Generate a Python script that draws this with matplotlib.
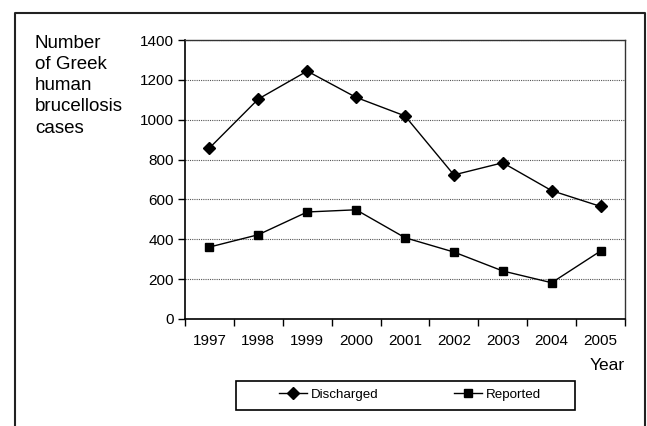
import matplotlib
matplotlib.use("Agg")
import matplotlib.pyplot as plt
from matplotlib.lines import Line2D
from matplotlib.patches import Rectangle

years = ["1997", "1998", "1999", "2000", "2001", "2002", "2003", "2004", "2005"]
discharged = [858, 1104, 1244, 1112, 1019, 723, 784, 644, 565]
reported = [361, 423, 537, 548, 408, 336, 241, 182, 341]

plt.rcParams["font.family"] = ["Liberation Sans", "DejaVu Sans"]

W, H = 647, 426
fig = plt.figure(figsize=(W / 100, H / 100), dpi=100)
ax = fig.add_axes([185 / W, 107 / H, 440 / W, 279 / H])

x = range(len(years))
ax.plot(x, discharged, color="black", lw=1, marker="D", ms=6.5, label="Discharged")
ax.plot(x, reported, color="black", lw=1, marker="s", ms=5.5, label="Reported")

ax.set_xlim(-0.5, len(years) - 0.5)
ax.set_ylim(0, 1400)
ax.set_yticks(range(0, 1401, 200))
ax.set_xticks(list(x))
ax.set_xticklabels(years)
ax.set_xticks([i + 0.5 for i in range(-1, len(years))], minor=True)
ax.tick_params(axis="x", which="major", length=0, pad=11, labelsize=11)
ax.tick_params(axis="x", which="minor", length=5, width=1)
ax.tick_params(axis="y", length=5, width=1, labelsize=11, pad=3)
ax.grid(axis="y", linestyle=(0, (1, 1)), color="#555555", lw=0.8)
for s in ["left", "bottom"]:
    ax.spines[s].set_linewidth(1.2)
for s in ["top", "right"]:
    ax.spines[s].set_color("#333333")
    ax.spines[s].set_linewidth(1)

fig.text(35 / W, 1 - 35 / H, "Number\nof Greek\nhuman\nbrucellosis\ncases",
         ha="left", va="top", fontsize=13.5, linespacing=1.32)
fig.text(625 / W, 1 - 366 / H, "Year", ha="right", va="center", fontsize=12.5)

leg = fig.legend(loc="center", bbox_to_anchor=(410 / W, 1 - 395 / H), ncol=2,
                 frameon=False, fontsize=9.6, handlelength=2.1,
                 handletextpad=0.3, columnspacing=5.6, borderpad=0)
fig.add_artist(Rectangle((236 / W, 1 - 410 / H), 339 / W, 29 / H,
                         transform=fig.transFigure, fill=False,
                         edgecolor="black", lw=1.2))

# outer frame
fx0, fx1, fy = 15 / W, 645 / W, 1 - 13 / H
fig.add_artist(Line2D([fx0, fx0, fx1, fx1], [0, fy, fy, 0],
                      transform=fig.transFigure, color="#222222", lw=1.5))

fig.savefig("out.png", dpi=100)
